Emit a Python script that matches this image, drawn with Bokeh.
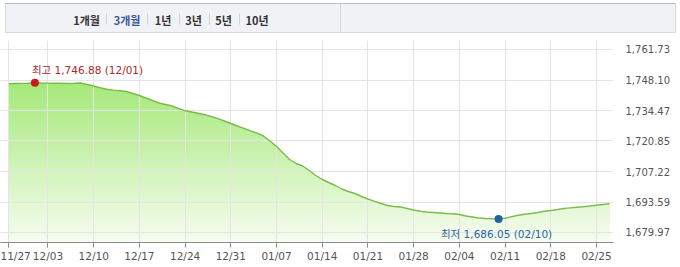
import numpy as np
import pandas as pd
from bokeh.plotting import figure
from bokeh.models import Range1d, FixedTicker, NumeralTickFormatter, DatetimeTickFormatter, Label
from bokeh.embed import file_html
from bokeh.resources import INLINE
from bokeh.core.properties import value

# ---------------- data ----------------
start_date = "2023-11-27"
values = [
    1746.40, 1746.54, 1746.58, 1746.67, 1746.88, 1746.76, 1746.72, 1746.67, 1746.63, 1746.54,
    1746.63, 1746.76, 1746.09, 1745.42, 1744.62, 1743.95, 1743.59, 1743.28, 1742.97, 1742.07,
    1741.18, 1740.06, 1738.94, 1737.83, 1737.16, 1736.49, 1735.37, 1734.34, 1733.81, 1733.27,
    1732.60, 1731.80, 1730.81, 1729.78, 1728.67, 1727.55, 1726.52, 1725.41, 1724.38, 1723.08,
    1720.85, 1718.39, 1715.49, 1712.58, 1710.80, 1709.68, 1707.67, 1705.43, 1703.65, 1702.31,
    1700.97, 1699.40, 1698.29, 1697.39, 1696.05, 1694.94, 1693.91, 1692.92, 1692.03, 1691.58,
    1691.36, 1690.69, 1690.02, 1689.44, 1689.13, 1688.90, 1688.68, 1688.46, 1688.32, 1688.01,
    1687.34, 1686.89, 1686.45, 1686.22, 1686.13, 1686.05, 1686.31, 1687.03, 1687.70, 1688.14,
    1688.46, 1688.90, 1689.48, 1689.80, 1690.24, 1690.69, 1690.96, 1691.23, 1691.50, 1691.81,
    1692.17, 1692.48, 1692.79,
]
tick_dates = ["2023-11-27", "2023-12-03", "2023-12-10", "2023-12-17", "2023-12-24",
              "2023-12-31", "2024-01-07", "2024-01-14", "2024-01-21", "2024-01-28",
              "2024-02-04", "2024-02-11", "2024-02-18", "2024-02-25"]
y_ticks = [1679.97, 1693.59, 1707.22, 1720.85, 1734.47, 1748.10, 1761.73]
tabs = ["1개월", "3개월", "1년", "3년", "5년", "10년"]
active_tab = "3개월"

dates = pd.date_range(start_date, periods=len(values), freq="D")
vals = np.array(values)
y_start, y_end = 1675.50, 1765.75

# ---------------- top tab bar ----------------
top = figure(width=680, height=40, x_range=Range1d(0, 680), y_range=Range1d(40, 0),
             output_backend="svg", toolbar_location=None, x_axis_location=None,
             y_axis_location=None, min_border=0, outline_line_color=None)
top.grid.visible = False
top.quad(left=5, right=675, top=3, bottom=32, fill_color="#f0f2f6", line_color="#d6d9de")
top.segment(x0=5, y0=3, x1=675, y1=3, line_color="#b9bcc2")
top.segment(x0=340, y0=3, x1=340, y1=32, line_color="#d6d9de")
tab_x = [86, 126.5, 162.5, 193, 223, 256.5]
sep_x = [106, 147, 179, 209, 239]
top.segment(x0=sep_x, y0=[13] * 5, x1=sep_x, y1=[24] * 5, line_color="#d2d4d8")
top.text(x=tab_x, y=[19] * len(tabs), text=tabs,
         text_color=["#3a5a9c" if t == active_tab else "#333333" for t in tabs],
         text_font=value("Noto Sans CJK KR"), text_font_style="bold", text_font_size="11px",
         text_align="center", text_baseline="middle")

# ---------------- main chart ----------------
x0 = dates[0] - pd.Timedelta(hours=30.5)
x1 = dates[0] + pd.Timedelta(days=92.6)
p = figure(width=680, height=227, x_axis_type="datetime", y_axis_location="right",
           x_range=Range1d(x0, x1), y_range=Range1d(y_start, y_end),
           output_backend="svg", toolbar_location=None,
           min_border_left=0, min_border_right=67, min_border_top=0, min_border_bottom=25,
           outline_line_color=None, background_fill_color="white")

# gradient fill built from stacked layers
n = 60
step = (y_end - y_start) / n
c_top = np.array([162, 232, 116])
c_bot = np.array([247, 253, 241])
for k in range(n):
    hi = y_end - k * step
    mid = hi - step / 2
    t = np.clip((mid - y_start) / (1750 - y_start), 0, 1)
    c = (c_bot + (c_top - c_bot) * t).astype(int)
    r = p.varea(x=dates, y1=np.full(len(vals), y_start), y2=np.minimum(vals, hi),
                fill_color="#%02x%02x%02x" % tuple(c))
    r.level = "image"

p.line(dates, vals, line_color="#7bbd4c", line_width=1.4)

imax = int(np.argmax(vals))
imin = int(np.argmin(vals))
p.scatter([dates[imax]], [vals[imax]], size=8, fill_color="#cc1b1b", line_color=None)
p.scatter([dates[imin]], [vals[imin]], size=8, fill_color="#1f63a6", line_color=None)

font_stack = "DejaVu Sans, Noto Sans CJK KR"
p.add_layout(Label(x=dates[imax].value / 1e6, y=vals[imax],
                   text=f"최고 {vals[imax]:,.2f} ({dates[imax]:%m/%d})",
                   x_offset=-3, y_offset=13, text_align="left", text_baseline="middle",
                   text_font=font_stack, text_font_size="10.5px", text_color="#a82a2c"))
p.add_layout(Label(x=dates[imin].value / 1e6, y=vals[imin],
                   text=f"최저 {vals[imin]:,.2f} ({dates[imin]:%m/%d})",
                   x_offset=-2, y_offset=-15, text_align="center", text_baseline="middle",
                   text_font=font_stack, text_font_size="10.5px", text_color="#2b66a3"))

# axes
p.xaxis.ticker = FixedTicker(ticks=[pd.Timestamp(d).value / 1e6 for d in tick_dates])
fmt = "%m/%d"
p.xaxis.formatter = DatetimeTickFormatter(days=fmt, months=fmt, years=fmt, hours=fmt,
                                          minutes=fmt, seconds=fmt, milliseconds=fmt,
                                          microseconds=fmt, minsec=fmt, hourmin=fmt,
                                          context=None)
p.xaxis.axis_line_color = "#8c8c8c"
p.xaxis.major_tick_line_color = "#8c8c8c"
p.xaxis.major_tick_out = 5
p.xaxis.major_tick_in = 0
p.xaxis.minor_tick_line_color = None
p.xaxis.major_label_standoff = 2
p.xaxis.major_label_text_font = "DejaVu Sans"
p.xaxis.major_label_text_font_size = "10.5px"
p.xaxis.major_label_text_color = "#555555"

p.yaxis.ticker = FixedTicker(ticks=y_ticks)
p.yaxis.formatter = NumeralTickFormatter(format="0,0.00")
p.yaxis.axis_line_color = None
p.yaxis.major_tick_line_color = None
p.yaxis.minor_tick_line_color = None
p.yaxis.major_label_standoff = 6
p.yaxis.major_label_text_font = "DejaVu Sans"
p.yaxis.major_label_text_font_size = "10px"
p.yaxis.major_label_text_color = "#555555"

p.xgrid.grid_line_color = "#e4e4e4"
p.ygrid.grid_line_color = "#e4e4e4"

# two independent roots, stacked (no frame alignment between them)
open("out.html", "w").write(file_html([top, p], INLINE))
